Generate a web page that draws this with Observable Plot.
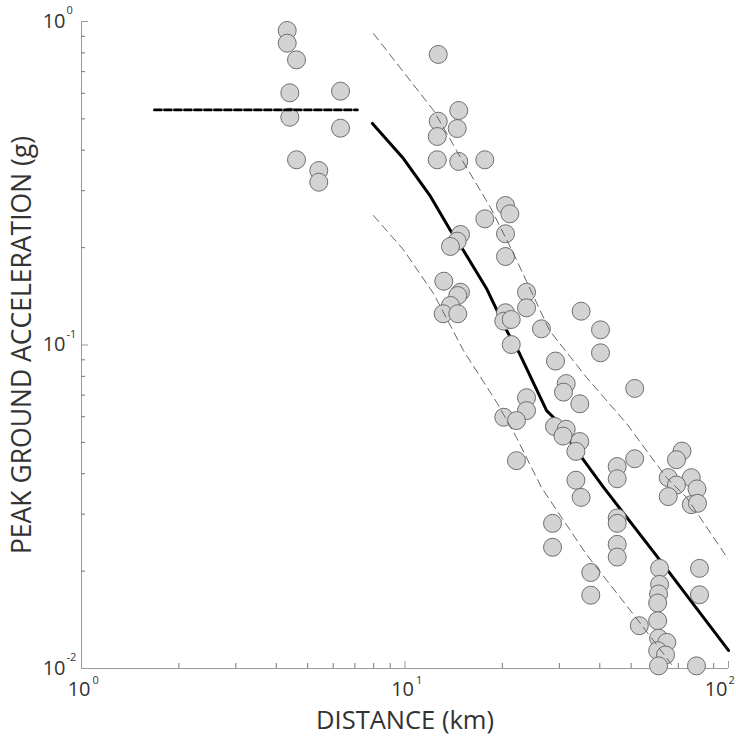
<!DOCTYPE html>
<html>
<head>
<meta charset="utf-8">
<script src="https://cdn.jsdelivr.net/npm/d3@7"></script>
<script src="https://cdn.jsdelivr.net/npm/@observablehq/plot@0.6"></script>
<style>
  html, body { margin: 0; padding: 0; background: #fff; }
  #chart svg { display: block; }
</style>
</head>
<body>
<div id="chart"></div>
<script>
// Recorded observations: distance (km) and peak ground acceleration (g)
const distance = [
  4.324, 4.324, 4.620, 4.405, 6.32, 4.405, 6.32, 4.620, 5.413, 5.413,
  12.67, 14.66, 12.67, 14.50, 12.58, 12.58, 14.66, 17.65, 20.45, 21.09,
  17.65, 20.45, 14.84, 14.50, 13.82, 20.45, 13.18, 14.84, 14.56, 13.82,
  13.12, 14.56, 23.75, 23.75, 20.45, 20.20, 21.30, 21.30, 26.41, 35.03,
  40.21, 40.21, 29.19, 31.50, 30.90, 34.70, 51.29, 23.75, 23.75, 20.20,
  22.11, 28.98, 31.50, 30.79, 34.70, 33.75, 22.11, 45.28, 45.28, 51.29,
  33.75, 35.03, 71.83, 69.06, 65.11, 76.74, 69.06, 79.91, 65.11, 76.74,
  80.20, 45.28, 45.28, 28.58, 28.58, 45.28, 45.28, 37.52, 37.52, 61.24,
  81.35, 61.24, 60.79, 60.40, 81.35, 60.40, 53.01, 60.79, 64.46, 60.40,
  63.87, 60.79, 79.63
];
const pga = [
  0.938, 0.857, 0.761, 0.602, 0.609, 0.506, 0.468, 0.3737, 0.3462, 0.3186,
  0.791, 0.5307, 0.4917, 0.4668, 0.4411, 0.3737, 0.3693, 0.3737, 0.2699, 0.2544,
  0.2455, 0.2207, 0.2196, 0.2094, 0.2016, 0.1877, 0.1575, 0.1456, 0.1422, 0.1325,
  0.1249, 0.1249, 0.1456, 0.1303, 0.1258, 0.1185, 0.1199, 0.1003, 0.1122, 0.1272,
  0.1114, 0.0946, 0.0892, 0.0760, 0.0715, 0.0658, 0.0734, 0.0687, 0.0627, 0.0598,
  0.0584, 0.0560, 0.0549, 0.0523, 0.0503, 0.0469, 0.0439, 0.0421, 0.0386, 0.0445,
  0.0382, 0.0338, 0.0470, 0.0442, 0.0389, 0.0389, 0.0369, 0.0359, 0.0340, 0.0321,
  0.0324, 0.0292, 0.0281, 0.0281, 0.0237, 0.0242, 0.0221, 0.0198, 0.01685, 0.0204,
  0.0204, 0.0182, 0.0170, 0.01594, 0.0169, 0.01405, 0.01356, 0.01241, 0.01205, 0.01135,
  0.01101, 0.01019, 0.01019
];

// Attenuation relation (median) and its +/- bounds
const medianDist = [7.93, 9.89, 11.99, 13.82, 15.16, 17.86, 20.6, 22.6, 27.4, 28.8, 33.9, 41.1, 61.2, 100];
const medianPga  = [0.484, 0.377, 0.288, 0.226, 0.196, 0.1496, 0.111, 0.0941, 0.0627, 0.0597, 0.0472, 0.0363, 0.0217, 0.01137];

const upperDist = [7.99, 12.25, 14.85, 18.38, 21.8, 27.97, 36.4, 48.4, 64.3, 74.2, 100];
const upperPga  = [0.918, 0.531, 0.380, 0.266, 0.189, 0.1109, 0.0794, 0.0572, 0.0389, 0.0338, 0.0217];

const lowerDist = [7.99, 9.89, 12.25, 15.16, 19.3, 22.1, 26.4, 36.4, 50.9, 66.7];
const lowerPga  = [0.2513, 0.197, 0.1443, 0.0961, 0.066, 0.0518, 0.0363, 0.0225, 0.01468, 0.01029];

// Near-field plateau
const nearDist = [1.68, 7.13];
const nearPga  = [0.533, 0.533];

// Axes
const xMajorTicks = [1, 10, 100];
const xExponents  = ["0", "1", "2"];
const xMinorTicks = [2, 3, 4, 5, 6, 7, 8, 9, 20, 30, 40, 50, 60, 70, 80, 90];
const yMajorTicks = [0.01, 0.1, 1];
const yExponents  = ["-2", "-1", "0"];
const yMinorTicks = [0.02, 0.03, 0.04, 0.05, 0.06, 0.07, 0.08, 0.09, 0.2, 0.3, 0.4, 0.5, 0.6, 0.7, 0.8, 0.9];
const xTitle = "DISTANCE (km)";
const yTitle = "PEAK GROUND ACCELERATION (g)";

const zip = (xs, ys) => xs.map((x, i) => ({x, y: ys[i]}));
const points = zip(distance, pga);
const median = zip(medianDist, medianPga);
const upper = zip(upperDist, upperPga);
const lower = zip(lowerDist, lowerPga);
const near = zip(nearDist, nearPga);
const xLabels = xMajorTicks.map((v, i) => ({v, e: xExponents[i]}));
const yLabels = yMajorTicks.map((v, i) => ({v, e: yExponents[i]}));
const xMax = xMajorTicks[xMajorTicks.length - 1];

const font = "'Open Sans', 'DejaVu Sans', sans-serif";
const textColor = "#333";
const axisColor = "#9a9a9a";

const chart = Plot.plot({
  width: 736,
  height: 737,
  marginLeft: 81,
  marginRight: 8,
  marginTop: 21,
  marginBottom: 69,
  style: {fontFamily: font, background: "#fff"},
  x: {type: "log", domain: [1, 100]},
  y: {type: "log", domain: [0.01, 1]},
  marks: [
    // axis lines
    Plot.ruleY([0.01], {stroke: axisColor, strokeWidth: 1}),
    Plot.ruleX([1], {stroke: axisColor, strokeWidth: 1}),
    // inward ticks
    Plot.axisX({ticks: xMajorTicks, tickSize: -7, tickFormat: () => "", label: null, stroke: axisColor}),
    Plot.axisX({ticks: xMinorTicks, tickSize: -5, tickFormat: () => "", label: null, stroke: "#777"}),
    Plot.axisY({ticks: yMajorTicks, tickSize: -7, tickFormat: () => "", label: null, stroke: axisColor}),
    Plot.axisY({ticks: yMinorTicks, tickSize: -4, tickFormat: () => "", label: null, stroke: "#777"}),
    // x tick labels: base and exponent
    Plot.text(xLabels, {filter: d => d.v < xMax, x: "v", frameAnchor: "bottom", text: () => "10", textAnchor: "end", lineAnchor: "middle", dx: 9, dy: 21.5, fontSize: 20, fill: textColor}),
    Plot.text(xLabels, {filter: d => d.v < xMax, x: "v", frameAnchor: "bottom", text: "e", textAnchor: "start", lineAnchor: "middle", dx: 11, dy: 12, fontSize: 11, fill: textColor}),
    Plot.text(xLabels, {filter: d => d.v >= xMax, x: "v", frameAnchor: "bottom", text: () => "10", textAnchor: "end", lineAnchor: "middle", dx: -1, dy: 21.5, fontSize: 20, fill: textColor}),
    Plot.text(xLabels, {filter: d => d.v >= xMax, x: "v", frameAnchor: "bottom", text: "e", textAnchor: "start", lineAnchor: "middle", dx: 0, dy: 12, fontSize: 11, fill: textColor}),
    // y tick labels: base and exponent
    Plot.text(yLabels, {y: "v", frameAnchor: "left", text: () => "10", textAnchor: "end", lineAnchor: "middle", dx: -16, dy: 0, fontSize: 20, fill: textColor}),
    Plot.text(yLabels, {y: "v", frameAnchor: "left", text: "e", textAnchor: "start", lineAnchor: "middle", dx: -15, dy: -11, fontSize: 11, fill: textColor}),
    // axis titles
    Plot.text([xTitle], {frameAnchor: "bottom", text: d => d, textAnchor: "middle", lineAnchor: "middle", dy: 52.5, fontSize: 25.5, fill: textColor}),
    Plot.text([yTitle], {frameAnchor: "left", text: d => d, textAnchor: "middle", lineAnchor: "middle", rotate: -90, dx: -59, fontSize: 26.5, fill: textColor}),
    // median curve
    Plot.line(median, {x: "x", y: "y", stroke: "#000", strokeWidth: 3}),
    // observations
    Plot.dot(points, {x: "x", y: "y", r: 9, fill: "#d3d3d3", stroke: "#6e6e6e", strokeWidth: 1}),
    // bounds
    Plot.line(upper, {x: "x", y: "y", stroke: "#666", strokeWidth: 1, strokeDasharray: "8,5", clip: true}),
    Plot.line(lower, {x: "x", y: "y", stroke: "#666", strokeWidth: 1, strokeDasharray: "8,5", clip: true}),
    // near-field plateau
    Plot.line(near, {x: "x", y: "y", stroke: "#000", strokeWidth: 2.7, strokeDasharray: "7,3"})
  ]
});
document.getElementById("chart").appendChild(chart);
</script>
</body>
</html>
